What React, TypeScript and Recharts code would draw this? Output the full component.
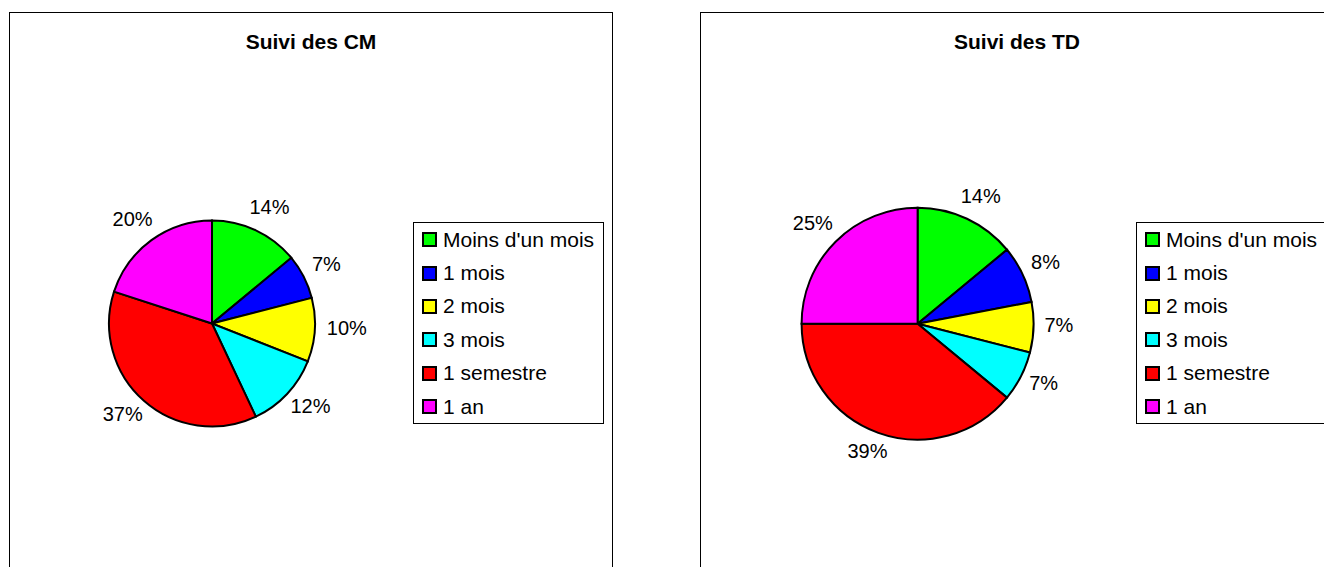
import React from 'react';
import { PieChart, Pie, Cell, Legend } from 'recharts';

const categories = ["Moins d'un mois", '1 mois', '2 mois', '3 mois', '1 semestre', '1 an'];
const cmValues = [14, 7, 10, 12, 37, 20];
const tdValues = [14, 8, 7, 7, 39, 25];
const sliceColors = ['#00FF00', '#0000FF', '#FFFF00', '#00FFFF', '#FF0000', '#FF00FF'];
const titles = ['Suivi des CM', 'Suivi des TD'];

const FONT = '"Liberation Sans", Arial, Helvetica, sans-serif';
const RAD = Math.PI / 180;

const buildData = (values: number[]) =>
  categories.map((name, i) => ({ name, value: values[i] }));

const renderLabel = (props: any) => {
  const { cx, cy, midAngle, outerRadius, value } = props;
  const text = `${value}%`;
  const dx = Math.cos(-midAngle * RAD);
  const dy = Math.sin(-midAngle * RAD);
  const d = outerRadius + 12;
  const halfW = text.length * 6.7;
  const halfH = 10;
  const x = cx + d * dx + dx * halfW;
  const y = cy + d * dy + dy * halfH - 3;
  return (
    <text
      x={x}
      y={y}
      textAnchor="middle"
      dominantBaseline="central"
      fontFamily={FONT}
      fontSize={20}
      fill="#000"
    >
      {text}
    </text>
  );
};

const LegendBox = (props: any) => {
  const raw = props.payload || [];
  const payload = [...raw].sort(
    (a: any, b: any) => categories.indexOf(a.value) - categories.indexOf(b.value)
  );
  return (
    <div
      style={{
        border: '1px solid #000',
        background: '#fff',
        width: 189,
        fontFamily: FONT,
        fontSize: 21,
        color: '#000',
        whiteSpace: 'nowrap',
      }}
    >
      {payload.map((entry: any, i: number) => {
        const idx = categories.indexOf(entry.value);
        return (
          <div
            key={i}
            style={{ height: 33.4, display: 'flex', alignItems: 'center' }}
          >
            <span
              style={{
                display: 'inline-block',
                boxSizing: 'border-box',
                width: 15,
                height: 15,
                marginLeft: 8,
                marginRight: 6,
                border: '2px solid #000',
                background: sliceColors[idx >= 0 ? idx : i],
              }}
            />
            <span>{entry.value}</span>
          </div>
        );
      })}
    </div>
  );
};

type PanelProps = {
  left: number;
  width: number;
  title: string;
  values: number[];
  cx: number;
  cy: number;
  r: number;
  legendLeft: number;
};

const Panel = ({ left, width, title, values, cx, cy, r, legendLeft }: PanelProps) => {
  const data = buildData(values);
  return (
    <div
      style={{
        position: 'absolute',
        left,
        top: 12,
        width,
        height: 600,
        border: '1px solid #000',
        boxSizing: 'border-box',
        background: '#fff',
      }}
    >
      <div
        style={{
          position: 'absolute',
          left: 0,
          top: 17,
          width: '100%',
          textAlign: 'center',
          fontFamily: FONT,
          fontWeight: 'bold',
          fontSize: 21,
          lineHeight: '24px',
          color: '#000',
        }}
      >
        {title}
      </div>
      <PieChart
        width={width - 2}
        height={555}
        margin={{ top: 0, right: 0, bottom: 0, left: 0 }}
      >
        <Pie
          data={data}
          dataKey="value"
          nameKey="name"
          cx={cx}
          cy={cy}
          outerRadius={r}
          startAngle={90}
          endAngle={-270}
          stroke="#000"
          strokeWidth={2}
          label={renderLabel}
          labelLine={false}
          isAnimationActive={false}
        >
          {data.map((_, i) => (
            <Cell key={i} fill={sliceColors[i]} stroke="#000" strokeWidth={2} />
          ))}
        </Pie>
        <Legend
          layout="vertical"
          align="right"
          verticalAlign="middle"
          itemSorter={null as any}
          content={<LegendBox />}
          wrapperStyle={{ left: legendLeft, top: 209, width: 191 }}
        />
      </PieChart>
    </div>
  );
};

export default function App() {
  return (
    <div
      style={{
        position: 'absolute',
        left: 0,
        top: 0,
        width: 1324,
        height: 567,
        overflow: 'hidden',
        background: '#fff',
      }}
    >
      <Panel
        left={9}
        width={604}
        title={titles[0]}
        values={cmValues}
        cx={202}
        cy={310.5}
        r={103}
        legendLeft={403}
      />
      <Panel
        left={700}
        width={634}
        title={titles[1]}
        values={tdValues}
        cx={216.6}
        cy={310.7}
        r={116}
        legendLeft={435}
      />
    </div>
  );
}
